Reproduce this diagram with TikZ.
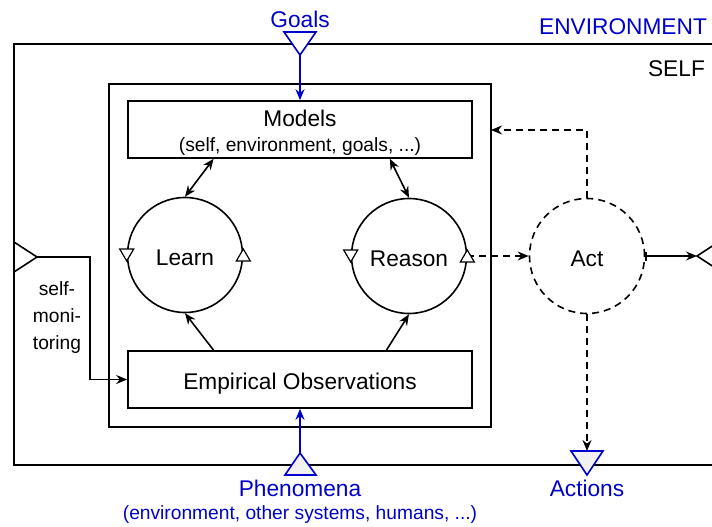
\documentclass[tikz,border=0pt]{standalone}
\usepackage{fontspec}
\setmainfont{Liberation Sans}
\usetikzlibrary{arrows.meta,calc}
\definecolor{portblue}{HTML}{0000CC}
\definecolor{portfill}{HTML}{F2F2F2}
\newcommand{\bigfont}{\fontsize{22.7}{27}\selectfont}
\newcommand{\smallfont}{\fontsize{19.2}{27}\selectfont}
\def\flowmark[#1](#2){\draw[line width=1.2pt, fill=white] ($(#2)+(-7,-6*#1)$) -- ($(#2)+(7,-6*#1)$) -- ($(#2)+(0,6*#1)$) -- cycle;}
\tikzset{
	box/.style={draw, minimum width=344pt, minimum height=57pt, inner sep=0pt, font=\bigfont, text height=20pt, text depth=0pt},
	loop/.style={draw, circle, minimum size=115pt, inner sep=0pt, font=\bigfont, text height=20.5pt, text depth=0pt},
	plan/.style={dash pattern=on 7pt off 5pt},
	port/.style={portblue, fill=#1},
}

\begin{document}
\begin{tikzpicture}[x=1pt, y=-1pt, line width=1.6pt, >={Stealth[length=11pt,width=9pt]}]
		\useasboundingbox (0,0) rectangle (712,527);
		\clip (0,0) rectangle (712,527);
		%%%%% START %%%%%
		
		\draw (14,44) rectangle (720,465);
		\node[anchor=east, text=portblue, font=\bigfont] (envtitle) at (711,27) {ENVIRONMENT};
		\node[anchor=east, font=\bigfont] (selftitle) at (709,69) {SELF};
		
		\node[draw, minimum width=382pt, minimum height=343pt] (core) at (300,255.5) {};
		\node[box] (models) at (300,129.5) {};
		\node[font=\bigfont] (modelstitle) at (300,118) {Models};
		\node[font=\smallfont] (modelsnote) at (300,146.5) {(self, environment, goals, ...)};
		\node[box] (obs) at (300,379.5) {Empirical Observations};
		
		\node[loop] (learn) at (185,255) {Learn};
		\node[loop] (reason) at (409,256) {Reason};
		\node[loop, plan] (act) at (587,256) {Act};
		
		\draw[<->] ($(models.south west)!0.25!(models.south east)$) -- (learn.north);
		\draw[<->] ($(models.south west)!0.76!(models.south east)$) -- (reason.north);
		\draw[->] ($(obs.north west)!0.25!(obs.north east)$) -- (learn.south);
		\draw[->] ($(obs.north west)!0.75!(obs.north east)$) -- (reason.south);
		
		\coordinate (coreport) at (491,130);
		\coordinate (actionstop) at (587,451);
		\coordinate (rightport) at (697,256);
		\draw[->, plan] (reason.east) -- (act.west);
		\draw[->, plan] (act.north) |- (coreport);
		\draw[->, plan] (act.south) -- (actionstop);
		\draw[{Bar[width=9pt]}-{Stealth[length=11pt,width=9pt]}] (act.east) -- (rightport);
		\draw[fill=white] (rightport) -- (720,241) -- (720,271) -- cycle;
		
		\flowmark[1](learn.west)
		\flowmark[-1](learn.east)
		\flowmark[1](reason.west)
		\flowmark[-1](reason.east)
		
		% self-monitoring
		\coordinate (monport) at (37,257);
		\draw[fill=white] (14,242) -- (monport) -- (14,272) -- cycle;
		\draw[->] (monport) -- ++(53,0) |- (obs.west);
		\node[font=\smallfont, align=center] (montext) at (57,318) {self-\\moni-\\toring};
		
		% goals
		\node[text=portblue, font=\bigfont] (goals) at (300,19) {Goals};
		\coordinate (goalstip) at (300,55);
		\draw[port=white] (284,32) -- (316,32) -- (goalstip) -- cycle;
		\draw[->, portblue] (goalstip) -- (models.north);
		
		% phenomena
		\coordinate (phentip) at (300,453);
		\draw[port=portfill] (phentip) -- (316,475) -- (285,475) -- cycle;
		\draw[->, portblue] (phentip) -- (obs.south);
		\node[text=portblue, font=\bigfont] (phen) at (300,488) {Phenomena};
		\node[text=portblue, font=\smallfont] (phennote) at (300,515) {(environment, other systems, humans, ...)};
		
		% actions
		\draw[port=portfill] (571,451) -- (603,451) -- (587,475) -- cycle;
		\node[text=portblue, font=\bigfont] (actions) at (587,488) {Actions};
		
		%%%%% END %%%%%
	\end{tikzpicture}
\end{document}
